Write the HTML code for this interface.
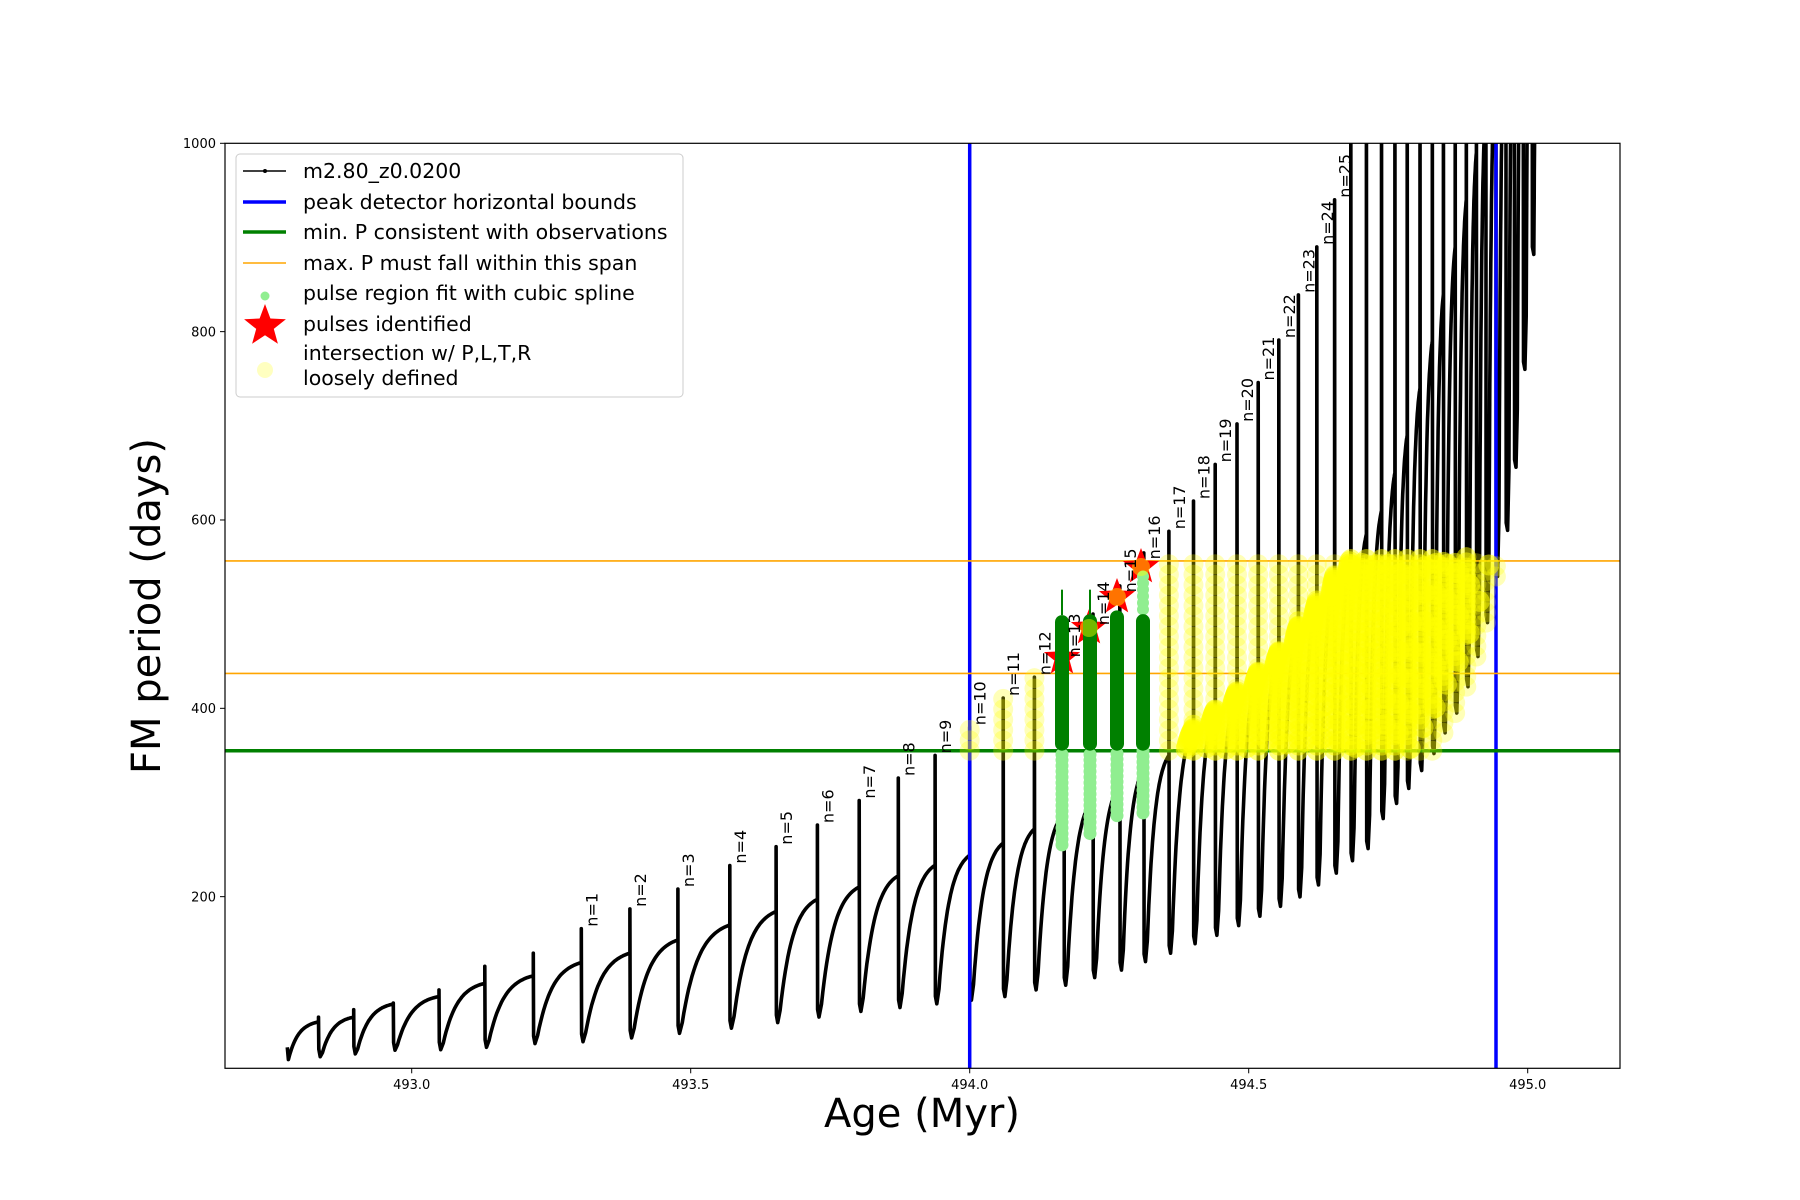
<!DOCTYPE html>
<html><head><meta charset="utf-8">
<style>
html,body{margin:0;padding:0;background:#fff;}
svg{display:block;}
text{font-family:"DejaVu Sans","Liberation Sans",sans-serif;}
</style></head>
<body>
<svg id="s" xmlns="http://www.w3.org/2000/svg" width="1800" height="1200" viewBox="0 0 1800 1200">
<rect width="1800" height="1200" fill="#fff"/>
<defs><clipPath id="ax"><rect x="225" y="143.3" width="1395" height="925"/></clipPath></defs>
<g id="plot" clip-path="url(#ax)"></g>
<rect x="225" y="143.3" width="1395" height="925" fill="none" stroke="#000" stroke-width="1.2"/>
<g id="ticks" font-size="13" fill="#000"></g>
<text x="922" y="1127" font-size="40" text-anchor="middle">Age (Myr)</text>
<text transform="translate(160,606) rotate(-90)" font-size="40" text-anchor="middle">FM period (days)</text>
<g id="legend"></g>
</svg>
<script>
(function(){
var NS="http://www.w3.org/2000/svg";
function X(a){return 411.7+(a-493)*558;}
function Y(v){return 143.3+(1000-v)*0.9417;}
function el(p,tag,attrs,txt){var e=document.createElementNS(NS,tag);for(var k in attrs)e.setAttribute(k,attrs[k]);if(txt!==undefined)e.textContent=txt;p.appendChild(e);return e;}
function interp(tab,a){if(a<=tab[0][0])return tab[0][1];for(var i=1;i<tab.length;i++){if(a<=tab[i][0]){var t=(a-tab[i-1][0])/(tab[i][0]-tab[i-1][0]);return tab[i-1][1]+t*(tab[i][1]-tab[i-1][1]);}}return tab[tab.length-1][1];}
var P=[492.833,492.896,492.967,493.049,493.131,493.218,493.304,493.391,493.477,493.57,493.653,493.727,493.802,493.872,493.938,494.0,494.06,494.116,494.169,494.221,494.269,494.312,494.357,494.401,494.44,494.479,494.517,494.554,494.589,494.622,494.654,494.683,494.711,494.738,494.762,494.784,494.807,494.829,494.849,494.87,494.89,494.908,494.925,494.943,494.961,494.976,494.992,495.008];
var S=[72,80,87,101,126,140,166,187,208,233,253,276,302,326,350,380,411,433,480,500,530,565,588,620,659,702,746,791,839,890,940];
while(S.length<P.length)S.push(1150);
var T=[[492.78,40],[492.833,67],[492.896,72],[492.967,86],[493.049,94],[493.131,108],[493.218,116],[493.304,130],[493.391,140],[493.477,154],[493.6,175],[493.8,210],[494.0,244],[494.06,257],[494.116,272],[494.169,289],[494.221,304],[494.269,319],[494.312,335],[494.357,350],[494.40,378],[494.44,398],[494.48,418],[494.52,440],[494.55,457],[494.59,488],[494.62,510],[494.654,540],[494.683,562],[494.711,585],[494.738,610],[494.762,650],[494.784,690],[494.807,740],[494.829,790],[494.849,840],[494.87,890],[494.89,940],[494.908,990],[494.925,1040],[495.0,1300],[495.1,1600]];
var M=[[492.78,26],[492.833,30],[492.896,33],[492.967,37],[493.05,37.5],[493.131,40],[493.218,44],[493.304,46],[493.391,50],[493.6,62],[493.8,78],[494.0,90],[494.06,94],[494.116,101],[494.169,106],[494.221,114],[494.269,122],[494.312,131],[494.357,140],[494.44,159],[494.52,180],[494.59,200],[494.654,225],[494.711,251],[494.738,283],[494.762,299],[494.784,315],[494.807,334],[494.829,352],[494.849,374],[494.87,395],[494.89,423],[494.908,455],[494.925,491],[494.943,540],[494.961,589],[494.976,656],[494.992,760],[495.008,882]];
var plot=document.getElementById('plot');
var d="M"+X(492.777).toFixed(1)+","+Y(40).toFixed(1);
var hum=[];
var prevA=492.777, prevV=27;
d+=" L"+X(492.779).toFixed(1)+","+Y(27).toFixed(1);
function rise(a0,v0,a1,v1,seg){var k=3,n=30,pts=[];for(var i=1;i<=n;i++){var s=i/n;var v=v0+(v1-v0)*(1-Math.exp(-k*s))/(1-Math.exp(-k));var a=a0+(a1-a0)*s;d+=" L"+X(a).toFixed(1)+","+Y(v).toFixed(1);pts.push([a,v]);}seg.push(pts);}
for(var i=0;i<P.length;i++){
  var a=P[i], t=interp(T,a), m=interp(M,a);
  rise(prevA+0.002,prevV,a,t,hum);
  d+=" L"+X(a).toFixed(1)+","+Y(S[i]).toFixed(1);
  d+=" L"+X(a+0.0005).toFixed(1)+","+Y(m+8).toFixed(1);
  d+=" L"+X(a+0.003).toFixed(1)+","+Y(m).toFixed(1);
  prevA=a+0.003; prevV=m;
}
rise(prevA,prevV,495.02,1200,hum);
el(plot,'path',{d:d,fill:'none',stroke:'#000','stroke-width':3.6,'stroke-linejoin':'round'});
el(plot,'line',{x1:969.7,y1:140,x2:969.7,y2:1070,stroke:'#0000ff','stroke-width':3.5});
el(plot,'line',{x1:1496,y1:140,x2:1496,y2:1070,stroke:'#0000ff','stroke-width':3.5});
el(plot,'line',{x1:225,y1:Y(355),x2:1620,y2:Y(355),stroke:'#008000','stroke-width':3.5});
el(plot,'line',{x1:225,y1:Y(556.5),x2:1620,y2:Y(556.5),stroke:'#ffa500','stroke-width':1.6});
el(plot,'line',{x1:225,y1:Y(437),x2:1620,y2:Y(437),stroke:'#ffa500','stroke-width':1.6});
function star(cx,cy,R){var r=R*0.42,s="";for(var k=0;k<10;k++){var ang=-Math.PI/2+k*Math.PI/5;var rr=k%2?r:R;s+=(cx+rr*Math.cos(ang)).toFixed(1)+","+(cy+rr*Math.sin(ang)).toFixed(1)+" ";}return s;}
var stars=[[1062,658],[1089,628],[1117,597],[1141,567]];
stars.forEach(function(s){el(plot,'polygon',{points:star(s[0],s[1],19),fill:'#ff0000'});});
var gb=[[1062,255,499,526],[1090,267,500,526],[1117,286,504,0],[1143,289,500,0]];
gb.forEach(function(g,j){
  for(var v=g[1];v<=355;v+=6)el(plot,'circle',{cx:g[0],cy:Y(v),r:6.5,fill:'#90ee90'});
  if(j==3){for(var v2=505;v2<=545;v2+=7)el(plot,'circle',{cx:g[0],cy:Y(v2),r:6,fill:'#90ee90'});}
  if(g[3])el(plot,'line',{x1:g[0],y1:Y(g[3]),x2:g[0],y2:Y(g[2]),stroke:'#008000','stroke-width':2});
  el(plot,'rect',{x:g[0]-7,y:Y(g[2]),width:14,height:Y(355)-Y(g[2]),rx:7,fill:'#008000'});
});
var yg=el(plot,'g',{fill:'#ffff00','fill-opacity':0.28});
var ygd=el(plot,'g',{fill:'#ffff00','fill-opacity':0.5});
for(var i=15;i<P.length;i++){
  if(P[i]>494.945)break;
  if(i>=18&&i<=21)continue;
  var tv=interp(T,P[i]), mv=interp(M,P[i]);
  var lo=Math.max(355,Math.min(tv,mv)), hi=Math.min(556,S[i]);
  for(var v=lo;v<=hi;v+=11){
    var dense=(P[i]>494.37&&P[i]<494.9&&v<=tv&&v>=mv+45);
    el(dense?ygd:yg,'circle',{cx:X(P[i]),cy:Y(v),r:10});
    if(dense)el(ygd,'circle',{cx:X(P[i]),cy:Y(v+5.5),r:10});
  }
}
var yg2=el(plot,'g',{fill:'#ffff00','fill-opacity':0.55});
hum.forEach(function(pts){pts.forEach(function(p){if(p[0]>494.3&&p[0]<494.945&&p[1]>=355&&p[1]<=556)el(yg2,'circle',{cx:X(p[0]),cy:Y(p[1]),r:10.5});});});
stars.forEach(function(s,j){if(j>=1)el(plot,'circle',{cx:s[0],cy:s[1],r:9,fill:'#ffff00','fill-opacity':0.45});});
var lab=el(plot,'g',{'font-size':16,fill:'#000'});
for(var n=1;n<=25;n++){var i=n+5;var yv=S[i];if(n>=13&&n<=16)yv=[452,486,521,556][n-13];
  var x=X(P[i])+16,y=Y(yv)-2;
  el(lab,'text',{transform:'translate('+x.toFixed(1)+','+y.toFixed(1)+') rotate(-90)'},'n='+n);}
var tk=document.getElementById('ticks');
[493.0,493.5,494.0,494.5,495.0].forEach(function(a){var x=X(a);el(tk,'line',{x1:x,y1:1068.3,x2:x,y2:1073.3,stroke:'#000','stroke-width':1});el(tk,'text',{x:x,y:1089,'text-anchor':'middle'},a.toFixed(1));});
[200,400,600,800,1000].forEach(function(v){var y=Y(v);el(tk,'line',{x1:220,y1:y,x2:225,y2:y,stroke:'#000','stroke-width':1});el(tk,'text',{x:216,y:y+4.7,'text-anchor':'end'},v);});
var lg=document.getElementById('legend');
el(lg,'rect',{x:236,y:154,width:447,height:243,rx:4,fill:'#fff','fill-opacity':0.8,stroke:'#cccccc','stroke-width':1});
var ty=[171,202,232,263,293,324];
var labels=['m2.80_z0.0200','peak detector horizontal bounds','min. P consistent with observations','max. P must fall within this span','pulse region fit with cubic spline','pulses identified'];
labels.forEach(function(t,i){el(lg,'text',{x:303,y:ty[i]+7,'font-size':20.5},t);});
el(lg,'text',{x:303,y:360,'font-size':20.5},'intersection w/ P,L,T,R');
el(lg,'text',{x:303,y:385,'font-size':20.5},'loosely defined');
el(lg,'line',{x1:243,y1:ty[0],x2:286,y2:ty[0],stroke:'#000','stroke-width':1.6});
el(lg,'circle',{cx:265,cy:ty[0],r:2,fill:'#000'});
el(lg,'line',{x1:243,y1:ty[1],x2:286,y2:ty[1],stroke:'#0000ff','stroke-width':3.5});
el(lg,'line',{x1:243,y1:ty[2],x2:286,y2:ty[2],stroke:'#008000','stroke-width':3.5});
el(lg,'line',{x1:243,y1:ty[3],x2:286,y2:ty[3],stroke:'#ffa500','stroke-width':1.6});
el(lg,'circle',{cx:265,cy:ty[4]+3,r:4.5,fill:'#90ee90'});
el(lg,'polygon',{points:star(265,ty[5]+2,22),fill:'#ff0000'});
el(lg,'circle',{cx:265,cy:370,r:8,fill:'#ffffc0'});
})();
</script>
</body></html>
